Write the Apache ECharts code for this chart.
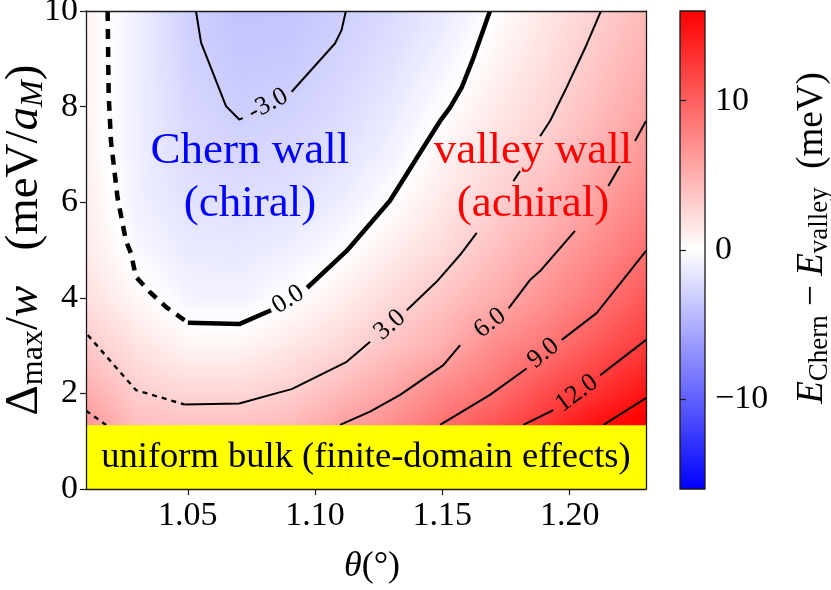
<!DOCTYPE html>
<html><head><meta charset="utf-8">
<script src="https://cdn.jsdelivr.net/npm/echarts@6/dist/echarts.min.js"></script>
<style>html,body{margin:0;padding:0;background:#fff}#chart{width:831px;height:590px}</style>
</head><body><div id="chart"></div>
<script>
// ===================== DATA =====================
// colour-field grid: twist angle theta (deg) x Delta_max/w (meV/a_M)
const thetaGrid = [1.01, 1.03, 1.05, 1.07, 1.09, 1.11, 1.13, 1.15, 1.17, 1.19, 1.21, 1.23];
const deltaGrid = [1, 2, 3, 4, 5, 6, 7, 8, 9, 10];
// E_Chern - E_valley (meV), one row per Delta value
const eDiffD1  = [7.2, 4.6, 4.5, 4.6, 5.0, 6.7, 7.8, 9.7, 11.7, 13.5, 16.3, 17.5];
const eDiffD2  = [5.3, 3.1, 2.6, 2.6, 3.1, 4.4, 5.8, 7.6, 9.0, 11.2, 12.9, 14.8];
const eDiffD3  = [3.4, 1.8, 0.65, 0.65, 1.5, 2.4, 3.8, 5.1, 7.2, 8.6, 10.5, 12.3];
const eDiffD4  = [2.0, 0.5, -0.7, -0.8, 0.0, 1.1, 2.3, 3.7, 5.1, 6.8, 8.5, 10.5];
const eDiffD5  = [1.4, -0.45, -1.3, -1.4, -1.0, -0.2, 1.1, 2.3, 3.9, 5.5, 7.2, 8.9];
const eDiffD6  = [1.1, -0.9, -1.8, -2.0, -1.8, -1.1, 0.05, 1.5, 2.9, 4.3, 5.95, 7.7];
const eDiffD7  = [0.9, -1.0, -2.2, -2.6, -2.4, -1.8, -0.8, 0.7, 2.0, 3.2, 4.9, 6.6];
const eDiffD8  = [0.8, -1.0, -2.5, -3.1, -2.9, -2.3, -1.4, -0.1, 1.3, 2.5, 4.1, 5.7];
const eDiffD9  = [0.75, -1.0, -2.8, -3.5, -3.4, -2.7, -1.9, -0.8, 0.6, 2.0, 3.5, 5.0];
const eDiffD10 = [0.7, -1.0, -3.0, -3.8, -3.7, -3.1, -2.3, -1.4, 0.0, 1.5, 2.9, 4.4];
const energyRows = [eDiffD1, eDiffD2, eDiffD3, eDiffD4, eDiffD5, eDiffD6, eDiffD7, eDiffD8, eDiffD9, eDiffD10];

// contour lines, [theta, Delta] points, split into segments where the line is interrupted
const contourNeg3 = [
  [[1.0532,10],[1.0552,9.34],[1.065,8.01],[1.0702,7.73],[1.0716,7.76]],
  [[1.0908,8.31],[1.1078,9.32],[1.1104,9.6],[1.1121,10]]
];
const contourZero = [
  [[1.05,3.48],[1.0702,3.45],[1.0827,3.74]],
  [[1.0969,4.21],[1.1124,4.98],[1.1294,6.03],[1.140,6.93],[1.1491,7.70],[1.153,7.98],[1.1576,8.40],[1.1622,9.02],[1.1687,10]]
];
const contourZeroExtrap = [
  [[1.0185,10],[1.0189,8.26],[1.0198,7.28],[1.0224,6.09],[1.0257,5.19],[1.0277,4.93],[1.0296,4.44],[1.0349,4.13],[1.0414,3.81],[1.05,3.48]]
];
const contour3 = [
  [[1.0486,1.77],[1.0702,1.79],[1.0846,2.0],[1.0908,2.09],[1.1124,2.66],[1.1216,3.08]],
  [[1.136,3.74],[1.1478,4.34],[1.157,4.90],[1.1635,5.36]],
  [[1.1779,6.44],[1.1805,6.65]],
  [[1.1884,7.38],[1.1923,7.70],[1.1988,8.40],[1.2067,9.30],[1.2123,10]]
];
const contour3Extrap = [
  [[1.0107,3.22],[1.0296,2.07],[1.0486,1.77]]
];
const contour6 = [
  [[1.1098,1.34],[1.1216,1.62],[1.1334,1.97],[1.1504,2.59],[1.157,3.01]],
  [[1.176,3.78],[1.1844,4.37],[1.1884,4.56],[1.2021,5.40]],
  [[1.2152,6.34],[1.2198,6.76]],
  [[1.2257,7.28],[1.23,7.70]]
];
const contour6Extrap = [
  [[1.01,1.64],[1.0179,1.34]]
];
const contour9 = [
  [[1.1491,1.34],[1.1687,1.97],[1.1831,2.52]],
  [[1.1969,3.12],[1.2106,3.68],[1.2237,4.56],[1.23,4.98]]
];
const contour12 = [
  [[1.1818,1.34],[1.1936,1.65]],
  [[1.212,2.38],[1.23,3.12]]
];
const contour15 = [
  [[1.2133,1.34],[1.23,1.90]]
];

// inline contour labels
const labelThetas = [1.0815, 1.0894, 1.1294, 1.1687, 1.1897, 1.2028];
const labelDeltas = [8.05, 3.96, 3.43, 3.47, 2.84, 2.0];
const labelTexts  = ['-3.0', '0.0', '3.0', '6.0', '9.0', '12.0'];

// region annotations
const regionTexts  = ['Chern wall\n(chiral)', 'valley wall\n(achiral)'];
const regionThetas = [1.0744, 1.1856];
const regionDeltas = [6.52, 6.52];

// uniform-bulk band
const bulkBandDelta = [0, 1.333];
const bulkText = 'uniform bulk (finite-domain effects)';

// axes
const thetaRange = [1.01, 1.23];
const deltaRange = [0, 10];
const xTickValues = [1.05, 1.10, 1.15, 1.20];
const yTickValues = [0, 2, 4, 6, 8, 10];
const cbarRange = [-16, 16];
const cbarTickValues = [-10, 0, 10];

// ===================== RENDERING =====================
const FONT = 'Liberation Serif';
const INK = '#1a1a1a';

function bwr(v) {
  let t = (v - cbarRange[0]) / (cbarRange[1] - cbarRange[0]);
  t = Math.max(0, Math.min(1, t));
  let r, g, b;
  if (t < 0.5) { r = g = 2 * t; b = 1; } else { r = 1; g = b = 2 * (1 - t); }
  return 'rgb(' + Math.round(r * 255) + ',' + Math.round(g * 255) + ',' + Math.round(b * 255) + ')';
}

const cells = [];
for (let j = 0; j < deltaGrid.length - 1; j++)
  for (let i = 0; i < thetaGrid.length - 1; i++)
    cells.push([thetaGrid[i], deltaGrid[j], i, j]);

function renderCell(params, api) {
  const i = api.value(2), j = api.value(3);
  const p0 = api.coord([thetaGrid[i], deltaGrid[j]]);
  const p1 = api.coord([thetaGrid[i + 1], deltaGrid[j + 1]]);
  const v00 = energyRows[j][i], v10 = energyRows[j][i + 1];
  const v01 = energyRows[j + 1][i], v11 = energyRows[j + 1][i + 1];
  const H = p0[1] - p1[1], W = p1[0] - p0[0];
  const N = Math.max(1, Math.ceil(H / 2));
  const children = [];
  for (let k = 0; k < N; k++) {
    const f = (k + 0.5) / N;
    const vL = v00 + (v01 - v00) * f, vR = v10 + (v11 - v10) * f;
    const stops = [{ offset: 0, color: bwr(vL) }];
    if ((vL < 0 && vR > 0) || (vL > 0 && vR < 0)) {
      stops.push({ offset: vL / (vL - vR), color: '#ffffff' });
    }
    stops.push({ offset: 1, color: bwr(vR) });
    children.push({
      type: 'rect',
      shape: { x: p0[0], y: p0[1] - H * (k + 1) / N - 0.4, width: W + 0.6, height: H / N + 0.8 },
      style: { fill: new echarts.graphic.LinearGradient(0, 0, 1, 0, stops) },
      silent: true
    });
  }
  return { type: 'group', children: children };
}

const contourSets = [
  { segs: contourNeg3, width: 2, dash: null },
  { segs: contourZero, width: 4.5, dash: null },
  { segs: contourZeroExtrap, width: 4.5, dash: [10, 8] },
  { segs: contour3, width: 2, dash: null },
  { segs: contour3Extrap, width: 2.4, dash: [5, 5] },
  { segs: contour6, width: 2, dash: null },
  { segs: contour6Extrap, width: 2.4, dash: [5, 5] },
  { segs: contour9, width: 2, dash: null },
  { segs: contour12, width: 2, dash: null },
  { segs: contour15, width: 2, dash: null }
];
const labelContour = [contourNeg3, contourZero, contour3, contour6, contour9, contour12];

const contourItems = [];
contourSets.forEach(function (c, ci) {
  c.segs.forEach(function (s, si) { contourItems.push([s[0][0], s[0][1], ci, si]); });
});

function renderContour(params, api) {
  const c = contourSets[api.value(2)];
  const seg = c.segs[api.value(3)];
  const pts = seg.map(function (p) { return api.coord(p); });
  return {
    type: 'polyline',
    shape: { points: pts },
    style: { stroke: '#000', lineWidth: c.width, fill: null, lineDash: c.dash, lineJoin: 'round', lineCap: 'butt' },
    silent: true
  };
}

function renderLabel(params, api) {
  const idx = params.dataIndex;
  const segs = labelContour[idx];
  const lx = labelThetas[idx], ly = labelDeltas[idx];
  let best = null, bd = Infinity;
  for (let s = 0; s < segs.length - 1; s++) {
    const a = segs[s][segs[s].length - 1], b = segs[s + 1][0];
    const d = Math.hypot(((a[0] + b[0]) / 2 - lx) / 0.22, ((a[1] + b[1]) / 2 - ly) / 10);
    if (d < bd) { bd = d; best = [a, b]; }
  }
  const pa = api.coord(best[0]), pb = api.coord(best[1]);
  const ang = Math.atan2(pa[1] - pb[1], pb[0] - pa[0]);
  const p = api.coord([lx, ly]);
  return {
    type: 'text', x: p[0], y: p[1], rotation: ang,
    style: { text: labelTexts[idx], fontSize: 26, fontFamily: FONT, fill: '#000', align: 'center', verticalAlign: 'middle' },
    silent: true
  };
}

const regionColors = ['#0000ff', '#ff0000'];
function renderRegion(params, api) {
  const idx = params.dataIndex;
  const p = api.coord([regionThetas[idx], regionDeltas[idx]]);
  return {
    type: 'text', x: p[0], y: p[1],
    style: { text: regionTexts[idx], fontSize: 45, lineHeight: 53, fontFamily: FONT, fill: regionColors[idx], align: 'center', verticalAlign: 'middle' },
    silent: true
  };
}

function renderBand(params, api) {
  const p0 = api.coord([thetaRange[0], bulkBandDelta[0]]);
  const p1 = api.coord([thetaRange[1], bulkBandDelta[1]]);
  return {
    type: 'group',
    children: [
      { type: 'rect', shape: { x: p0[0], y: p1[1], width: p1[0] - p0[0], height: p0[1] - p1[1] }, style: { fill: '#ffff00' } },
      { type: 'text', x: (p0[0] + p1[0]) / 2, y: (p0[1] + p1[1]) / 2,
        style: { text: bulkText, fontSize: 36.5, fontFamily: FONT, fill: '#000', align: 'center', verticalAlign: 'middle' } }
    ],
    silent: true
  };
}

function renderCbar(params, api) {
  const p0 = api.coord([0, cbarRange[0]]);
  const p1 = api.coord([1, cbarRange[1]]);
  return {
    type: 'rect',
    shape: { x: p0[0], y: p1[1], width: p1[0] - p0[0], height: p0[1] - p1[1] },
    style: {
      fill: new echarts.graphic.LinearGradient(0, 1, 0, 0, [
        { offset: 0, color: bwr(cbarRange[0]) },
        { offset: 0.5, color: bwr(0) },
        { offset: 1, color: bwr(cbarRange[1]) }
      ]),
      stroke: INK, lineWidth: 1.3
    },
    silent: true
  };
}

const axisLineStyle = { color: INK, width: 1.3 };
const tickStyle = { color: INK, width: 1.2 };
const labelStyle = { fontSize: 34, color: '#000', fontFamily: FONT };

const chart = echarts.init(document.getElementById('chart'), null, { renderer: 'canvas' });
chart.setOption({
  animation: false,
  backgroundColor: '#fff',
  textStyle: { fontFamily: FONT },
  grid: [
    { left: 86, top: 11, width: 560, height: 478, containLabel: false, outerBoundsMode: 'none' },
    { left: 680, top: 11, width: 25, height: 478, containLabel: false, outerBoundsMode: 'none' }
  ],
  xAxis: [
    {
      gridIndex: 0, type: 'value', min: thetaRange[0], max: thetaRange[1], position: 'bottom', z: 20,
      axisLine: { show: true, onZero: false, lineStyle: axisLineStyle },
      axisTick: { show: true, inside: false, length: 6, lineStyle: tickStyle, customValues: xTickValues },
      axisLabel: Object.assign({ customValues: xTickValues, margin: 10, formatter: function (v) { return v.toFixed(2); } }, labelStyle),
      splitLine: { show: false },
      name: '{it|θ}{r|(°)}', nameLocation: 'middle', nameGap: 60, nameMoveOverlap: false,
      nameTextStyle: { padding: [0, 0, 0, 12], rich: {
        it: { fontSize: 36, fontStyle: 'italic', fontFamily: FONT, color: '#000' },
        r: { fontSize: 36, fontFamily: FONT, color: '#000' } } }
    },
    {
      gridIndex: 0, type: 'value', min: thetaRange[0], max: thetaRange[1], position: 'top', z: 20,
      axisLine: { show: true, onZero: false, lineStyle: axisLineStyle },
      axisTick: { show: false }, axisLabel: { show: false }, splitLine: { show: false }
    },
    { gridIndex: 1, type: 'value', min: 0, max: 1, show: false }
  ],
  yAxis: [
    {
      gridIndex: 0, type: 'value', min: deltaRange[0], max: deltaRange[1], z: 20,
      axisLine: { show: true, onZero: false, lineStyle: axisLineStyle },
      axisTick: { show: true, inside: false, length: 6, lineStyle: tickStyle, customValues: yTickValues },
      axisLabel: Object.assign({ customValues: yTickValues, margin: 8 }, labelStyle),
      splitLine: { show: false },
      name: '{g|Δ}{s|max}{g|/}{it|w}{g|   (meV/}{it|a}{si|M}{g|)}',
      nameLocation: 'middle', nameGap: 36, nameRotate: 90, nameMoveOverlap: false,
      nameTextStyle: { padding: [0, 0, 0, 20], rich: {
        g: { fontSize: 47, fontFamily: FONT, color: '#000' },
        it: { fontSize: 47, fontStyle: 'italic', fontFamily: FONT, color: '#000' },
        s: { fontSize: 32, fontFamily: FONT, color: '#000', padding: [18, 0, 0, 0] },
        si: { fontSize: 32, fontStyle: 'italic', fontFamily: FONT, color: '#000', padding: [18, 0, 0, 0] } } }
    },
    {
      gridIndex: 0, type: 'value', min: deltaRange[0], max: deltaRange[1], position: 'right', z: 20,
      axisLine: { show: true, onZero: false, lineStyle: axisLineStyle },
      axisTick: { show: false }, axisLabel: { show: false }, splitLine: { show: false }
    },
    {
      gridIndex: 1, type: 'value', min: cbarRange[0], max: cbarRange[1], position: 'right', z: 20,
      axisLine: { show: false },
      axisTick: { show: true, inside: false, length: 6, lineStyle: tickStyle, customValues: cbarTickValues },
      axisLabel: Object.assign({ customValues: cbarTickValues, margin: 10,
        formatter: function (v) { return v < 0 ? '\u2212' + Math.abs(v) : String(v); } }, labelStyle),
      splitLine: { show: false },
      name: '{it|E}{s|Chern}{g| − }{it|E}{s|valley}{g|  (meV)}',
      nameLocation: 'middle', nameGap: 86, nameRotate: 90, nameMoveOverlap: false,
      nameTextStyle: { padding: [0, 0, 0, 24], rich: {
        g: { fontSize: 37, fontFamily: FONT, color: '#000' },
        it: { fontSize: 37, fontStyle: 'italic', fontFamily: FONT, color: '#000' },
        s: { fontSize: 27, fontFamily: FONT, color: '#000', padding: [15, 0, 0, 0] } } }
    }
  ],
  series: [
    { type: 'custom', name: 'energy field', xAxisIndex: 0, yAxisIndex: 0, data: cells, renderItem: renderCell, clip: true, z: 1 },
    { type: 'custom', name: 'contours', xAxisIndex: 0, yAxisIndex: 0, data: contourItems, renderItem: renderContour, clip: true, z: 3 },
    { type: 'custom', name: 'bulk band', xAxisIndex: 0, yAxisIndex: 0, data: [[thetaRange[0], bulkBandDelta[0]]], renderItem: renderBand, clip: true, z: 4 },
    { type: 'custom', name: 'contour labels', xAxisIndex: 0, yAxisIndex: 0,
      data: labelThetas.map(function (t, k) { return [t, labelDeltas[k]]; }), renderItem: renderLabel, z: 5 },
    { type: 'custom', name: 'regions', xAxisIndex: 0, yAxisIndex: 0,
      data: regionThetas.map(function (t, k) { return [t, regionDeltas[k]]; }), renderItem: renderRegion, z: 5 },
    { type: 'custom', name: 'colorbar', xAxisIndex: 2, yAxisIndex: 2, data: [[0, cbarRange[0]]], renderItem: renderCbar, z: 2 }
  ]
});
</script>
</body></html>
